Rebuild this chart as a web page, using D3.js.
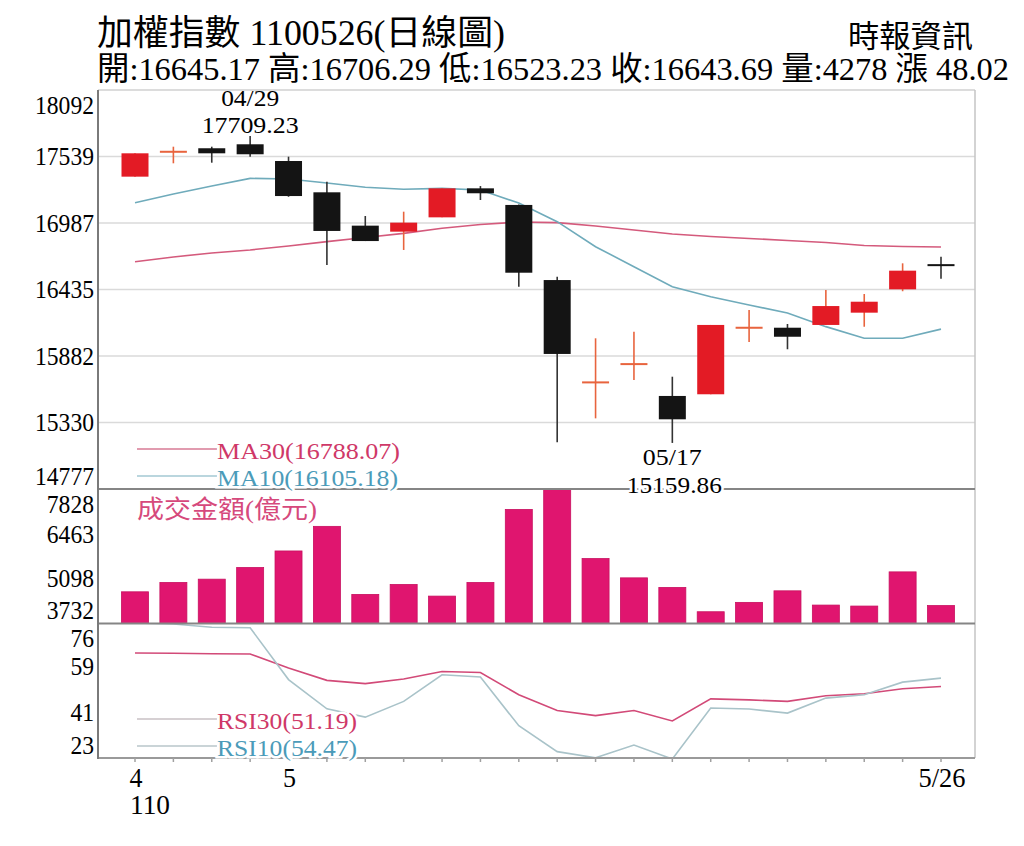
<!DOCTYPE html>
<html>
<head>
<meta charset="utf-8">
<script src="https://cdn.jsdelivr.net/npm/d3@7/dist/d3.min.js"></script>
<style>
body { margin: 0; background: #fff; }
text { font-family: "Liberation Serif", "Noto Sans CJK TC", serif; }
</style>
</head>
<body>
<svg id="chart" width="1024" height="846"></svg>
<script>
// daily candles, 22 trading days
var open  = [17372, 17583, 17608, 17641, 17502, 17242, 16965, 16915, 17034, 17275, 17137, 16513, 15667, 15819, 15550, 15564, 16115, 16117, 16140, 16242, 16436, 16645.17];
var high  = [17566, 17621, 17621, 17709.23, 17538, 17330, 17045, 17081, 17275, 17294, 17140, 16541, 16029, 16084, 15710, 16140, 16264, 16148, 16430, 16397, 16652, 16706.29];
var low   = [17372, 17483, 17488, 17538, 17205, 16638, 16837, 16763, 17034, 17178, 16458, 15165, 15364, 15683, 15159.86, 15564, 15999, 15938, 16140, 16125, 16420, 16523.23];
var close = [17566, 17587, 17566, 17558, 17211, 16921, 16837, 16990, 17275, 17234, 16574, 15899, 15671, 15823, 15356, 16140, 16125, 16042, 16297, 16333, 16591, 16643.69];

var ma10 = [17156, 17228, 17294, 17358, 17353, 17319, 17284, 17267, 17275, 17261, 17153, 16998, 16790, 16624, 16458, 16375, 16306, 16239, 16126, 16029, 16029, 16105.18];
var ma30 = [16665, 16705, 16738, 16763, 16796, 16832, 16867, 16901, 16943, 16975, 16995, 16990, 16962, 16929, 16896, 16875, 16858, 16842, 16825, 16800, 16792, 16788.07];

// 成交金額(億元)
var volume = [4697, 4982, 5082, 5437, 5941, 6690, 4618, 4921, 4566, 4982, 7206, 7828, 5710, 5122, 4830, 4090, 4375, 4727, 4293, 4263, 5304, 4278];

var rsi30 = [64.4, 64.3, 64.1, 64.0, 58.5, 53.6, 52.3, 54.1, 57.1, 56.7, 47.9, 41.7, 39.7, 41.7, 37.6, 46.3, 45.9, 45.3, 47.5, 48.3, 50.3, 51.19];
var rsi10 = [76.2, 75.8, 74.5, 74.3, 53.9, 42.4, 39.1, 45.3, 55.8, 54.9, 35.7, 25.5, 23.1, 28.1, 22.6, 42.7, 42.3, 40.7, 46.6, 47.9, 52.9, 54.47];

var priceTicks  = [18092, 17539, 16987, 16435, 15882, 15330, 14777];
var volumeTicks = [7828, 6463, 5098, 3732];
var rsiTicks    = [76, 59, 41, 23];
var monthTicks  = [{i: 0, label: "4", year: "110"}, {i: 4, label: "5"}, {i: 21, label: "5/26"}];
var extremes    = [{i: 3, date: "04/29", value: "17709.23", side: "top"},
                   {i: 14, date: "05/17", value: "15159.86", side: "bottom"}];

var titleText  = "加權指數 1100526(日線圖)";
var quoteText  = "開:16645.17 高:16706.29 低:16523.23 收:16643.69 量:4278 漲 48.02";
var sourceText = "時報資訊";

var left = 98, right = 975;
var panels = {
    price:  {top: 90,    bottom: 489},
    volume: {top: 489,   bottom: 623.5},
    rsi:    {top: 623.5, bottom: 758}
};

var svg = d3.select("#chart");

var x = d3.scalePoint().domain(d3.range(open.length)).range([135, 941]);
var yPrice = d3.scaleLinear().domain([14777, 18092]).range([panels.price.bottom, panels.price.top]);
var yVol   = d3.scaleLinear().domain([3732, 7828]).range([panels.volume.bottom, panels.volume.top]);
var yRsi   = d3.scaleLinear().domain([23, 76]).range([panels.rsi.bottom, panels.rsi.top]);

var bodyW = 27;
var upColor = "#e31b25", upWick = "#e8643e", downColor = "#141414";

function fit(sel, w) {
    sel.attr("textLength", w).attr("lengthAdjust", "spacingAndGlyphs");
    return sel;
}

// clip for the lines
["price", "volume", "rsi"].forEach(function(k) {
    svg.append("clipPath").attr("id", "clip-" + k)
        .append("rect")
        .attr("x", left).attr("y", panels[k].top)
        .attr("width", right - left).attr("height", panels[k].bottom - panels[k].top);
});

// header
fit(svg.append("text").attr("x", 97).attr("y", 45).style("font-size", "35px").text(titleText), 408);
fit(svg.append("text").attr("x", 97).attr("y", 80).style("font-size", "32.5px").text(quoteText), 912);
fit(svg.append("text").attr("x", 973).attr("y", 47).attr("text-anchor", "end").style("font-size", "31px").text(sourceText), 125);

// grid in price panel
svg.append("g").selectAll("line")
    .data(priceTicks.slice(1, -1))
    .enter().append("line")
    .attr("x1", left).attr("x2", right)
    .attr("y1", function(d) { return yPrice(d); })
    .attr("y2", function(d) { return yPrice(d); })
    .attr("stroke", "#dadada").attr("stroke-width", 1.5);

// frame
svg.append("line").attr("x1", left).attr("x2", right).attr("y1", 90).attr("y2", 90)
    .attr("stroke", "#d0d0d0").attr("stroke-width", 1.5);
svg.append("line").attr("x1", right).attr("x2", right).attr("y1", 90).attr("y2", 758)
    .attr("stroke", "#c4c4c4").attr("stroke-width", 1.5);

// MA lines
function drawLine(data, scale, color, clip, width) {
    svg.append("path")
        .datum(data)
        .attr("clip-path", "url(#clip-" + clip + ")")
        .attr("fill", "none")
        .attr("stroke", color)
        .attr("stroke-width", width || 1.6)
        .attr("d", d3.line()
            .x(function(d, i) { return x(i); })
            .y(function(d) { return scale(d); }));
}
drawLine(ma30, yPrice, "#d45a7c", "price");
drawLine(ma10, yPrice, "#6fabbb", "price");

// candles
var candle = svg.append("g").selectAll("g")
    .data(open.map(function(o, i) { return {i: i, o: o, h: high[i], l: low[i], c: close[i]}; }))
    .enter().append("g");

candle.append("line")
    .attr("x1", function(d) { return x(d.i); })
    .attr("x2", function(d) { return x(d.i); })
    .attr("y1", function(d) { return yPrice(d.h); })
    .attr("y2", function(d) { return yPrice(d.l); })
    .attr("stroke", function(d) { return d.c >= d.o ? upWick : "#333"; })
    .attr("stroke-width", 1.6);

candle.append("rect")
    .attr("x", function(d) { return x(d.i) - bodyW / 2; })
    .attr("width", bodyW)
    .attr("y", function(d) { return yPrice(Math.max(d.o, d.c)); })
    .attr("height", function(d) { return Math.max(2, Math.abs(yPrice(d.o) - yPrice(d.c))); })
    .attr("fill", function(d) {
        var small = Math.abs(yPrice(d.o) - yPrice(d.c)) < 2;
        if (d.c >= d.o) return small ? upWick : upColor;
        return downColor;
    });

// high / low notes
extremes.forEach(function(e) {
    var cx = x(e.i);
    if (e.side === "top") {
        fit(svg.append("text").attr("x", cx).attr("y", 106).attr("text-anchor", "middle")
            .style("font-size", "24px").text(e.date), 58);
        fit(svg.append("text").attr("x", cx).attr("y", 133).attr("text-anchor", "middle")
            .style("font-size", "24px").text(e.value), 97);
    } else {
        fit(svg.append("text").attr("x", cx).attr("y", 465).attr("text-anchor", "middle")
            .style("font-size", "24px").text(e.date), 59);
    }
});

// volume bars
svg.append("g").selectAll("rect")
    .data(volume)
    .enter().append("rect")
    .attr("x", function(d, i) { return x(i) - bodyW / 2; })
    .attr("width", bodyW)
    .attr("y", function(d) { return yVol(d); })
    .attr("height", function(d) { return yVol.range()[0] - yVol(d); })
    .attr("fill", "#e0156f")
    .attr("stroke", "#c8105f").attr("stroke-width", 0.8);

// RSI lines
drawLine(rsi30, yRsi, "#d24a78", "rsi");
drawLine(rsi10, yRsi, "#a9c3c9", "rsi");

// separators and axis
svg.append("line").attr("x1", left).attr("x2", right).attr("y1", 489).attr("y2", 489)
    .attr("stroke", "#858585").attr("stroke-width", 2);
svg.append("line").attr("x1", left).attr("x2", right).attr("y1", 623.5).attr("y2", 623.5)
    .attr("stroke", "#858585").attr("stroke-width", 2);
svg.append("line").attr("x1", left).attr("x2", right).attr("y1", 758).attr("y2", 758)
    .attr("stroke", "#9a9a9a").attr("stroke-width", 2);
svg.append("line").attr("x1", left).attr("x2", left).attr("y1", 90).attr("y2", 759)
    .attr("stroke", "#7a7a7a").attr("stroke-width", 2);

// low note over the separator
extremes.filter(function(e) { return e.side === "bottom"; }).forEach(function(e) {
    fit(svg.append("text").attr("x", x(e.i) + 2).attr("y", 493).attr("text-anchor", "middle")
        .style("font-size", "24px")
        .attr("stroke", "#fff").attr("stroke-width", 5).attr("paint-order", "stroke")
        .text(e.value), 95);
});

// small ticks on the date axis
svg.append("g").selectAll("line")
    .data(open)
    .enter().append("line")
    .attr("x1", function(d, i) { return x(i); })
    .attr("x2", function(d, i) { return x(i); })
    .attr("y1", 758).attr("y2", 762)
    .attr("stroke", "#a0a0a0").attr("stroke-width", 1.5);

// y labels, pulled inside the panel at its edges
function yLabels(ticks, scale, p) {
    svg.append("g").selectAll("text")
        .data(ticks)
        .enter().append("text")
        .attr("x", 94)
        .attr("y", function(d) { return Math.max(p.top + 15, Math.min(p.bottom - 13, scale(d))); })
        .attr("dy", "0.35em")
        .attr("text-anchor", "end")
        .style("font-size", "25px")
        .text(function(d) { return d; })
        .each(function(d) { fit(d3.select(this), String(d).length * 11.8); });
}
yLabels(priceTicks, yPrice, panels.price);
yLabels(volumeTicks, yVol, panels.volume);
yLabels(rsiTicks, yRsi, panels.rsi);

// date labels
monthTicks.forEach(function(t) {
    fit(svg.append("text").attr("x", x(t.i) + 1).attr("y", 787).attr("text-anchor", "middle")
        .style("font-size", "27px").text(t.label), t.label.length === 1 ? 13 : 47);
    if (t.year) {
        fit(svg.append("text").attr("x", x(t.i) - 5).attr("y", 814)
            .style("font-size", "27px").text(t.year), 40);
    }
});

// legends
function legend(y, color, lineColor, label, w) {
    svg.append("line").attr("x1", 137).attr("x2", 217).attr("y1", y).attr("y2", y)
        .attr("stroke", lineColor).attr("stroke-width", 1.5);
    fit(svg.append("text").attr("x", 217).attr("y", y + 10)
        .style("font-size", "24px").attr("fill", color)
        .attr("stroke", "#fff").attr("stroke-width", 5).attr("paint-order", "stroke")
        .text(label), w);
}
legend(449, "#cf3868", "#d77a94", "MA30(16788.07)", 183);
legend(476, "#4b9bb9", "#a3c8d3", "MA10(16105.18)", 181);
legend(719, "#cf3868", "#c9c1c4", "RSI30(51.19)", 140);
legend(746, "#4b9bb9", "#b9c6ca", "RSI10(54.47)", 140);

fit(svg.append("text").attr("x", 137).attr("y", 518)
    .style("font-size", "25px").attr("fill", "#d6497c")
    .text("成交金額(億元)"), 180);
</script>
</body>
</html>
